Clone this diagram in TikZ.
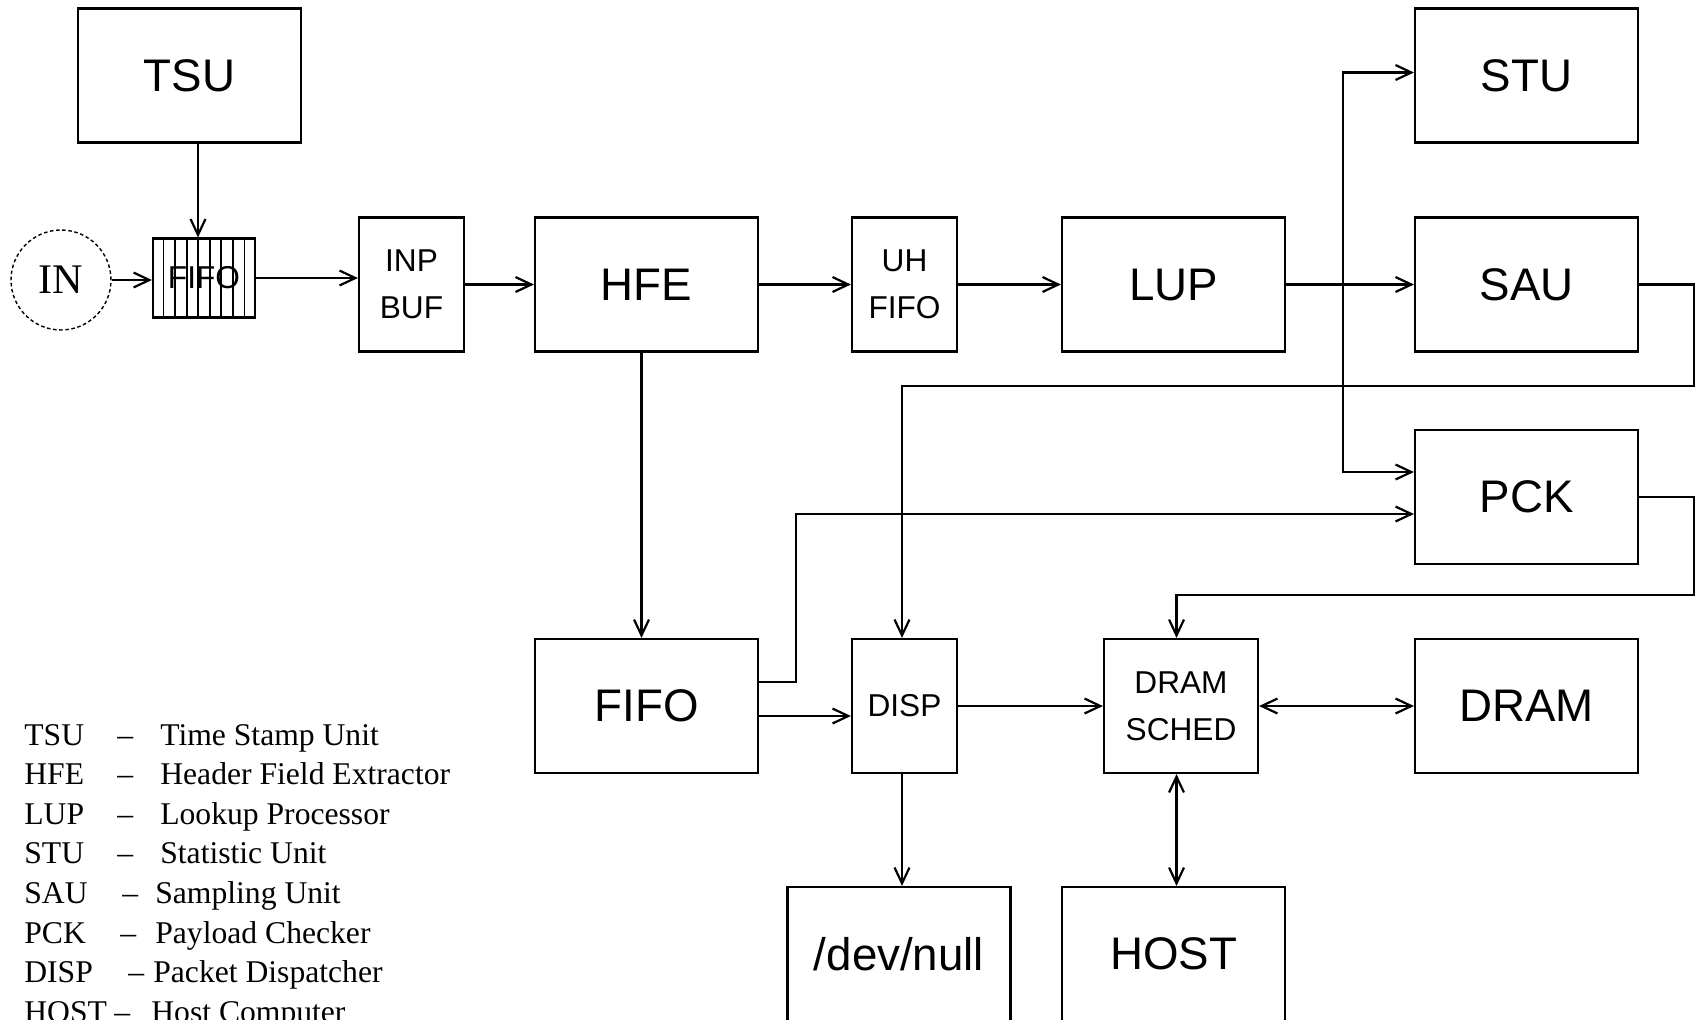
\documentclass[tikz,border=0pt]{standalone}
\usepackage{fontspec}
\usepackage{tikz}
\usetikzlibrary{calc,arrows.meta}
\newfontfamily\blockfont{Liberation Sans}
\newfontfamily\notefont{Liberation Serif}
\tikzset{
  link/.style={-{Straight Barb[length=9pt,width=8.5pt]}, line width=1.25pt},
  twoway/.style={{Straight Barb[length=9pt,width=8.5pt]}-{Straight Barb[length=9pt,width=8.5pt]}, line width=1.25pt},
  unit/.style={draw, line width=1.25pt, minimum width=4.46cm, minimum height=2.68cm, inner sep=0pt,
    font=\blockfont\fontsize{26}{30}\selectfont},
  slim/.style={unit, minimum width=2.1cm, align=center, font=\blockfont\fontsize{18}{27}\selectfont},
  legend/.style={anchor=base west, inner sep=0pt, font=\notefont\fontsize{18}{20}\selectfont}
}

\begin{document}
\begin{tikzpicture}[x=0.02cm, y=-0.02cm]
  \useasboundingbox (0,0) rectangle (1696,1019);

  % input side
  \node[draw, circle, line width=0.8pt, dash pattern=on 2pt off 1.5pt, minimum size=2cm, inner sep=0pt,
    font=\notefont\fontsize{24}{28}\selectfont] (in) at (61,280) {IN};
  \node[draw, line width=1.25pt, minimum width=2.04cm, minimum height=1.58cm, inner sep=0pt,
    font=\blockfont\fontsize{18}{22}\selectfont] (fifo) at (204,278) {FIFO};
  \foreach \i in {1,...,8}
    \draw[line width=1.1pt] ($(fifo.south west)!\i/9!(fifo.south east)$) -- ($(fifo.north west)!\i/9!(fifo.north east)$);

  % units
  \node[unit] (tsu) at (189.5,75.5) {TSU};
  \node[slim] (inpbuf) at (411.5,284.5) {INP\\BUF};
  \node[unit] (hfe) at (646.5,284.5) {HFE};
  \node[slim] (uhfifo) at (904.5,284.5) {UH\\FIFO};
  \node[unit] (lup) at (1173.5,284.5) {LUP};
  \node[unit] (stu) at (1526.5,75.5) {STU};
  \node[unit] (sau) at (1526.5,284.5) {SAU};
  \node[unit] (pck) at (1526.5,497) {PCK};
  \node[unit] (fifo2) at (646.5,706) {FIFO};
  \node[slim] (disp) at (904.5,706) {DISP};
  \node[slim, minimum width=3.08cm] (sched) at (1181,706) {DRAM\\SCHED};
  \node[unit] (dram) at (1526.5,706) {DRAM};
  \node[unit] (devnull) at (899,954) {/dev/null};
  \node[unit] (host) at (1173.5,954) {HOST};

  % main path
  \draw[link] ([xshift=0.17cm]tsu.south) -- ([xshift=0.17cm]tsu.south |- fifo.north);
  \draw[link] (in) -- (in -| fifo.west);
  \draw[link] (fifo.east) -- (fifo.east -| inpbuf.west);
  \draw[link] (inpbuf) -- (hfe);
  \draw[link] (hfe) -- (uhfifo);
  \draw[link] (uhfifo) -- (lup);
  \draw[link] (lup) -- (sau);

  % branch to STU and PCK
  \coordinate (branch) at (1343,284.5);
  \draw[link] (branch) |- ([yshift=0.06cm]stu.west);
  \draw[link] (branch) |- ([yshift=0.5cm]pck.west);

  % feedback from SAU and PCK
  \coordinate (sauturn) at (1694,386);
  \draw[link] (sau.east) -| (sauturn) -| ([xshift=-0.05cm]disp.north);
  \coordinate (pckturn) at (1694,595);
  \draw[link] (pck.east) -| (pckturn) -| ([xshift=-0.09cm]sched.north);

  % lower row
  \draw[link] ([xshift=-0.1cm]hfe.south) -- ([xshift=-0.1cm]fifo2.north);
  \coordinate (fifoturn) at (796,682);
  \draw[link] (fifo2.east |- fifoturn) -- (fifoturn) |- ([yshift=-0.34cm]pck.west);
  \draw[link] ([yshift=-0.2cm]fifo2.east) -- ([yshift=-0.2cm]disp.west);
  \draw[link] (disp) -- (sched);
  \draw[twoway] (sched) -- (dram);
  \draw[link] ([xshift=-0.05cm]disp.south) -- ([xshift=-0.05cm]disp.south |- devnull.north);
  \draw[twoway] ([xshift=-0.09cm]sched.south) -- ([xshift=-0.09cm]sched.south |- host.north);

  % legend
  \foreach \abbr/\dx/\tx/\full [count=\i from 0] in {
    TSU/117/160/Time Stamp Unit,
    HFE/117/160/Header Field Extractor,
    LUP/117/160/Lookup Processor,
    STU/117/160/Statistic Unit,
    SAU/122/155/Sampling Unit,
    PCK/120/155/Payload Checker,
    DISP/128/153/Packet Dispatcher,
    HOST/114/151/Host Computer
  }{
    \node[legend] (key\i) at (24,745+39.6*\i) {\abbr};
    \node[legend] (dash\i) at (\dx,745+39.6*\i) {\textendash};
    \node[legend] (name\i) at (\tx,745+39.6*\i) {\full};
  }
\end{tikzpicture}
\end{document}
